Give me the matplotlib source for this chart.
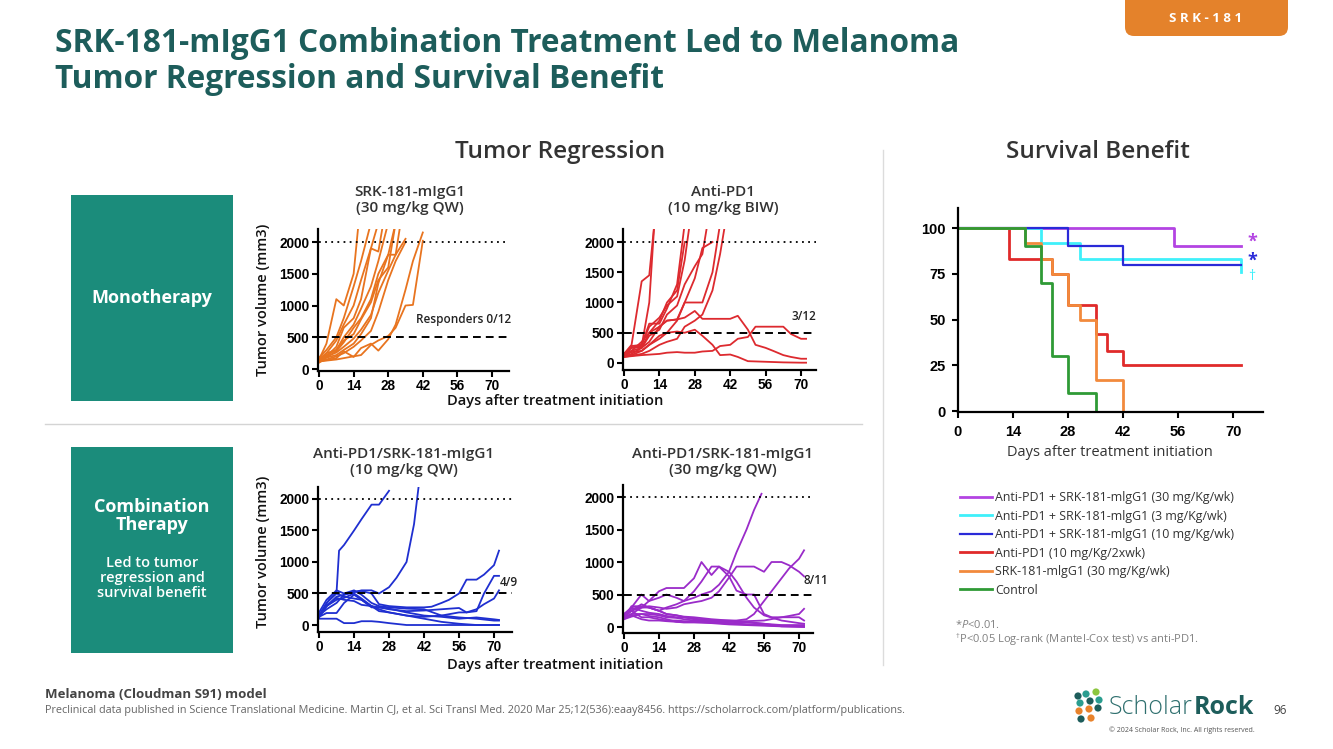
import numpy as np
import matplotlib
matplotlib.use("Agg")
import matplotlib.pyplot as plt
from matplotlib.patches import FancyBboxPatch, Rectangle
from matplotlib.font_manager import FontProperties

plt.rcParams['font.family'] = ['Open Sans', 'Noto Sans', 'DejaVu Sans']
plt.rcParams['mathtext.fontset'] = 'custom'
plt.rcParams['mathtext.rm'] = 'Open Sans'
plt.rcParams['mathtext.it'] = 'Open Sans:italic'

W, H = 1333, 749

# ---- tumor growth curves (day, volume mm3) ----
srk181_curves = [
    ([0, 3, 7, 10, 14, 16], [150, 400, 1100, 1000, 1500, 2300]),
    ([0, 3, 7, 10, 14, 17, 21], [180, 300, 500, 800, 1300, 1700, 2300]),
    ([0, 3, 7, 10, 14, 17, 21, 24], [120, 250, 450, 700, 1000, 1400, 1900, 2300]),
    ([0, 3, 7, 10, 14, 17, 21, 24, 26], [150, 200, 350, 650, 800, 1100, 1900, 1850, 2300]),
    ([0, 3, 7, 10, 14, 17, 21, 24, 28], [130, 220, 300, 500, 700, 950, 1300, 1700, 2300]),
    ([0, 3, 7, 10, 14, 17, 21, 24, 28, 31], [100, 180, 280, 420, 650, 800, 1100, 1500, 1800, 2300]),
    ([0, 3, 7, 10, 14, 17, 21, 24, 28, 31], [160, 250, 300, 450, 550, 780, 1050, 1400, 1600, 2300]),
    ([0, 3, 7, 10, 14, 17, 21, 24, 28, 31, 33], [140, 200, 260, 350, 480, 620, 850, 1200, 1550, 1800, 2300]),
    ([0, 3, 7, 10, 14, 17, 21, 24, 28, 31, 35], [120, 180, 220, 300, 400, 550, 800, 1350, 1800, 1800, 2050]),
    ([0, 3, 7, 10, 14, 17, 21, 24, 28, 31, 35], [110, 150, 200, 250, 350, 450, 600, 900, 1400, 1700, 2000]),
    ([0, 7, 14, 17, 21, 24, 28, 31, 35, 38, 42], [120, 150, 200, 220, 380, 450, 520, 650, 1000, 1010, 2020]),
    ([0, 3, 7, 10, 14, 17, 21, 24, 28, 31, 35, 38, 42], [130, 140, 170, 280, 190, 330, 400, 290, 470, 700, 1250, 1700, 2150]),
]

antipd1_curves = [
    ([0, 3, 7, 10, 12], [150, 300, 1350, 1450, 2300]),
    ([0, 3, 7, 10, 12], [120, 250, 280, 1000, 2300]),
    ([0, 3, 7, 10, 14, 17, 21, 24], [130, 280, 300, 650, 650, 900, 1300, 2300]),
    ([0, 3, 7, 10, 14, 17, 21, 24], [110, 200, 350, 500, 700, 1000, 1200, 2000]),
    ([0, 3, 7, 10, 14, 17, 21, 24, 26], [150, 250, 300, 600, 750, 950, 1100, 1700, 2300]),
    ([0, 3, 7, 10, 14, 17, 21, 24, 28, 31, 35], [100, 150, 250, 350, 600, 700, 720, 1000, 1400, 1900, 2000]),
    ([0, 3, 7, 10, 14, 17, 21, 24, 28, 31, 33], [140, 200, 250, 450, 550, 800, 950, 1300, 1600, 1800, 2300]),
    ([0, 3, 7, 10, 14, 17, 21, 24, 28, 31, 35, 38], [120, 130, 200, 300, 400, 500, 700, 1000, 1000, 1000, 1500, 2300]),
    ([0, 3, 7, 10, 14, 17, 21, 24, 28, 31, 35, 38, 40], [100, 120, 150, 200, 300, 350, 400, 600, 700, 800, 1200, 1800, 2300]),
    ([0, 3, 7, 10, 14, 17, 21, 24, 28, 31, 35, 42, 45, 49, 52, 56, 59, 63, 66, 70, 72],
     [130, 260, 250, 500, 600, 700, 720, 750, 860, 730, 730, 730, 780, 550, 300, 250, 200, 130, 100, 70, 70]),
    ([0, 3, 7, 10, 14, 17, 21, 24, 28, 31, 35, 38, 42, 45, 49, 56, 63, 70, 72],
     [120, 180, 200, 300, 450, 500, 520, 500, 550, 450, 300, 130, 140, 100, 30, 20, 10, 5, 5]),
    ([0, 7, 14, 17, 21, 24, 28, 31, 35, 38, 42, 45, 49, 52, 56, 63, 66, 70, 72],
     [100, 130, 150, 170, 180, 170, 170, 190, 200, 280, 300, 400, 430, 600, 600, 600, 480, 400, 400]),
]

combo10_curves = [
    ([0, 4, 7, 8, 10, 14, 17, 21, 24, 28], [150, 400, 520, 1180, 1270, 1500, 1680, 1910, 1910, 2130]),
    ([0, 3, 7, 10, 14, 17, 21, 24, 28, 31, 35, 38, 40], [150, 300, 450, 480, 520, 550, 550, 500, 600, 750, 1000, 1600, 2250]),
    ([0, 3, 7, 10, 14, 17, 21, 24, 28, 35, 42, 45, 49, 52, 56, 59, 63, 66, 70, 72],
     [150, 250, 350, 480, 530, 540, 500, 330, 300, 280, 280, 290, 350, 400, 500, 720, 720, 800, 950, 1180]),
    ([0, 3, 7, 10, 14, 17, 21, 24, 28, 35, 42, 49, 56, 59, 63, 66, 70, 72],
     [130, 190, 190, 350, 480, 400, 280, 280, 250, 220, 230, 250, 270, 200, 220, 500, 780, 780]),
    ([0, 3, 7, 10, 14, 17, 21, 24, 28, 35, 42, 49, 56, 59, 63, 66, 70, 72],
     [120, 300, 430, 400, 380, 320, 300, 220, 200, 150, 130, 150, 200, 200, 250, 330, 420, 550]),
    ([0, 3, 7, 10, 14, 17, 21, 24, 28, 35, 42, 49, 56, 63, 72], [100, 100, 100, 30, 30, 60, 60, 50, 30, 0, 0, 0, 0, 0, 0]),
    ([0, 3, 7, 10, 14, 17, 21, 24, 28, 35, 42, 49, 56, 63, 72], [150, 350, 500, 450, 420, 400, 300, 250, 200, 150, 100, 50, 20, 0, 0]),
    ([0, 3, 7, 10, 14, 17, 21, 24, 28, 35, 42, 49, 56, 63, 70, 72],
     [200, 400, 550, 500, 550, 480, 350, 300, 280, 260, 250, 150, 120, 100, 70, 70]),
    ([0, 3, 7, 10, 14, 17, 21, 24, 28, 35, 42, 49, 56, 63, 70, 72],
     [150, 300, 400, 430, 500, 420, 300, 280, 260, 200, 150, 130, 100, 120, 90, 80]),
]

combo30_curves = [
    ([0, 3, 7, 10, 14, 17, 21, 24, 28, 31, 35, 38, 42, 45, 49, 52, 55],
     [150, 250, 350, 300, 250, 300, 350, 400, 450, 500, 550, 650, 850, 1150, 1500, 1800, 2050]),
    ([0, 3, 7, 10, 14, 17, 21, 24, 28, 31, 35, 38, 42, 45, 49, 52, 56, 59, 63, 66, 70, 72],
     [200, 300, 500, 400, 550, 600, 600, 600, 750, 1000, 800, 930, 780, 560, 500, 500, 200, 150, 150, 150, 150, 100]),
    ([0, 3, 7, 10, 14, 17, 21, 24, 28, 31, 35, 38, 42, 45, 49, 52, 56, 63, 70, 72],
     [150, 250, 300, 400, 450, 500, 450, 400, 550, 700, 930, 930, 850, 700, 450, 300, 180, 100, 60, 50]),
    ([0, 3, 7, 10, 14, 17, 21, 24, 28, 31, 35, 38, 42, 45, 49, 52, 56, 59, 63, 66, 70, 72],
     [180, 280, 300, 320, 300, 280, 300, 350, 380, 400, 450, 550, 760, 930, 930, 930, 850, 1000, 1000, 950, 850, 780]),
    ([0, 3, 7, 10, 14, 17, 21, 24, 28, 35, 42, 45, 49, 52, 56, 59, 63, 66, 70, 72],
     [120, 200, 300, 300, 250, 200, 180, 160, 150, 120, 100, 100, 120, 200, 400, 550, 750, 900, 1050, 1180]),
    ([0, 3, 7, 10, 14, 17, 21, 24, 28, 35, 42, 49, 56, 63, 66, 70, 72],
     [150, 200, 200, 200, 180, 150, 140, 120, 100, 80, 80, 90, 100, 150, 170, 200, 280]),
    ([0, 3, 7, 10, 14, 17, 21, 24, 28, 35, 42, 49, 56, 63, 72], [130, 320, 320, 300, 250, 200, 180, 150, 120, 100, 60, 40, 30, 20, 10]),
    ([0, 3, 7, 10, 14, 17, 21, 24, 28, 35, 42, 49, 56, 63, 72], [200, 250, 150, 150, 120, 100, 100, 90, 80, 70, 50, 40, 30, 20, 20]),
    ([0, 3, 7, 10, 14, 17, 21, 24, 28, 35, 42, 49, 56, 63, 72], [120, 160, 200, 170, 150, 120, 80, 80, 90, 90, 60, 70, 50, 30, 30]),
    ([0, 3, 7, 10, 14, 17, 21, 24, 28, 35, 42, 49, 56, 63, 72], [170, 300, 250, 220, 200, 170, 150, 150, 130, 100, 100, 80, 50, 10, 0]),
    ([0, 3, 7, 10, 14, 17, 21, 24, 28, 35, 42, 49, 56, 63, 72], [140, 180, 120, 100, 100, 90, 80, 70, 70, 60, 40, 30, 20, 10, 5]),
]

# ---- survival (Kaplan-Meier) ----
km_labels = [
    "Anti-PD1 + SRK-181-mlgG1 (30 mg/Kg/wk)",
    "Anti-PD1 + SRK-181-mlgG1 (3 mg/Kg/wk)",
    "Anti-PD1 + SRK-181-mlgG1 (10 mg/Kg/wk)",
    "Anti-PD1 (10 mg/Kg/2xwk)",
    "SRK-181-mlgG1 (30 mg/Kg/wk)",
    "Control",
]
km_days = [
    [0, 55, 72],
    [0, 21, 31, 72],
    [0, 28, 42, 72],
    [0, 13, 24, 28, 35, 38, 42, 72],
    [0, 17, 21, 24, 28, 31, 35, 42],
    [0, 17, 21, 24, 28, 35],
]
km_surv = [
    [100, 90, 90],
    [100, 92, 83, 76],
    [100, 90, 80, 80],
    [100, 83, 75, 58, 42, 33, 25, 25],
    [100, 92, 83, 75, 58, 50, 17, 0],
    [100, 90, 70, 30, 10, 0],
]
km_colors = ['#b344e2', '#3ff0fa', '#2a2ad8', '#e02a2a', '#f28a3c', '#2f9a36']
km_widths = [2.0, 2.0, 1.6, 2.0, 2.0, 2.0]

x_ticks = [0, 14, 28, 42, 56, 70]
vol_ticks = [0, 500, 1000, 1500, 2000]
surv_ticks = [0, 25, 50, 75, 100]

TEAL_BOX = '#1b8c7b'
TITLE_C = '#1d5d5b'
DARK = '#333333'

fig = plt.figure(figsize=(W / 100, H / 100), dpi=100)
bg = fig.add_axes([0, 0, 1, 1], zorder=0)
bg.set_xlim(0, W)
bg.set_ylim(H, 0)
bg.axis('off')


def px_axes(x0, y0, x1, y1):
    ax = fig.add_axes([x0 / W, 1 - y1 / H, (x1 - x0) / W, (y1 - y0) / H], zorder=2)
    ax.patch.set_alpha(0)
    return ax


def style_axes(ax, yticks, size=9.8, pad=2):
    for s in ['top', 'right']:
        ax.spines[s].set_visible(False)
    for s in ['left', 'bottom']:
        ax.spines[s].set_linewidth(1.6)
    ax.set_xticks(x_ticks)
    ax.set_yticks(yticks)
    ax.tick_params(direction='out', length=4, width=1.5, pad=pad)
    fp = FontProperties(family='Liberation Sans', weight='bold', size=size)
    for lab in ax.get_xticklabels() + ax.get_yticklabels():
        lab.set_fontproperties(fp)


def tumor_panel(box, curves, color, ylim, xmax, note, note_xy):
    ax = px_axes(*box)
    for d, v in curves:
        ax.plot(d, v, color=color, lw=1.3, solid_joinstyle='round')
    ax.plot([0, xmax], [2000, 2000], color='k', lw=1.3, ls=(0, (1, 2.4)))
    ax.plot([0, xmax], [500, 500], color='k', lw=1.4, ls=(0, (4, 2.6)))
    ax.set_xlim(-0.5, xmax)
    ax.set_ylim(*ylim)
    style_axes(ax, vol_ticks)
    bg.text(note_xy[0], note_xy[1], note, fontsize=8.5, color='#222222', va='center', ha='left',
            weight='semibold')
    return ax


# header
bg.add_patch(FancyBboxPatch((1125, -30), 163, 66, boxstyle='round,pad=0,rounding_size=9',
                            fc='#e4822b', ec='none'))
bg.text(1206, 18, 'S R K - 1 8 1', color='white', fontsize=9.5, weight='bold', ha='center', va='center')
bg.text(55, 44, 'SRK-181-mIgG1 Combination Treatment Led to Melanoma', color=TITLE_C,
        fontsize=22.8, weight='bold', va='center', ha='left')
bg.text(55, 80, 'Tumor Regression and Survival Benefit', color=TITLE_C,
        fontsize=22.8, weight='bold', va='center', ha='left')

bg.text(560, 152, 'Tumor Regression', color=DARK, fontsize=17.5, weight='semibold', ha='center', va='center')
bg.text(1098, 152, 'Survival Benefit', color=DARK, fontsize=17.5, weight='semibold', ha='center', va='center')

# separators
bg.plot([45, 862], [424, 424], color='#d4d4d4', lw=1)
bg.plot([883, 883], [150, 665], color='#dcdcdc', lw=1)

# category boxes
bg.add_patch(Rectangle((71, 195), 162, 206, fc=TEAL_BOX, ec='none'))
bg.add_patch(Rectangle((71, 447), 162, 206, fc=TEAL_BOX, ec='none'))
bg.text(152, 298, 'Monotherapy', color='white', fontsize=13, weight='bold', ha='center', va='center')
bg.text(152, 516, 'Combination\nTherapy', color='white', fontsize=13, weight='bold', ha='center', va='center',
        linespacing=1.0)
bg.text(152, 578, 'Led to tumor\nregression and\nsurvival benefit', color='white', fontsize=10.5,
        weight='semibold', ha='center', va='center', linespacing=1.1)

# tumor panels
tumor_panel((317.8, 229, 509.3, 371), srk181_curves, '#e8741f', (-31, 2205), 77, 'Responders 0/12', (416, 320))
tumor_panel((622.7, 229, 816.2, 370), antipd1_curves, '#dd2a2f', (-116, 2215), 76, '3/12', (792, 317))
tumor_panel((317.8, 487, 511.5, 632), combo10_curves, '#1f2fd0', (-111, 2190), 77, '4/9', (500, 582))
tumor_panel((622.7, 485, 812.8, 633), combo30_curves, '#9a2bc9', (-92, 2185), 75.5, '8/11', (803, 580))

panel_title_kw = dict(color=DARK, fontsize=11, weight='semibold', ha='center', va='center', linespacing=1.1)
bg.text(410, 200, 'SRK-181-mIgG1\n(30 mg/kg QW)', **panel_title_kw)
bg.text(723, 200, 'Anti-PD1\n(10 mg/kg BIW)', **panel_title_kw)
bg.text(404, 462, 'Anti-PD1/SRK-181-mIgG1\n(10 mg/kg QW)', **panel_title_kw)
bg.text(723, 462, 'Anti-PD1/SRK-181-mIgG1\n(30 mg/kg QW)', **panel_title_kw)

for yc in (300, 552):
    bg.text(263, yc, 'Tumor volume (mm3)', rotation=90, color='#111111', fontsize=10.5, weight='semibold',
            ha='center', va='center')
for yc in (401, 665):
    bg.text(555, yc, 'Days after treatment initiation', color='#111111', fontsize=10.5, weight='semibold',
            ha='center', va='center')

# survival panel
km = px_axes(958, 208, 1262.6, 412)
handles = []
for t, s, c, lw, lab in zip(km_days, km_surv, km_colors, km_widths, km_labels):
    h, = km.step(t, s, where='post', color=c, lw=lw, label=lab)
    handles.append(h)
km.set_xlim(0, 77.5)
km.set_ylim(-0.5, 111)
style_axes(km, surv_ticks, size=10.5, pad=5)
bg.text(1110, 453, 'Days after treatment initiation', color=DARK, fontsize=10.5, ha='center', va='center')
bg.text(1252, 242, '*', color=km_colors[0], fontsize=13, weight='bold', ha='center', va='center')
bg.text(1252, 261, '*', color=km_colors[2], fontsize=13, weight='bold', ha='center', va='center')
bg.text(1252, 276, '†', color=km_colors[1], fontsize=10, ha='center', va='center')

leg = fig.legend(handles=handles, labels=km_labels, loc='upper left',
                 bbox_to_anchor=(960 / W, 1 - 491 / H), frameon=False, fontsize=8.9,
                 handlelength=2.6, handletextpad=0.25, labelspacing=0.45, borderaxespad=0, borderpad=0)
for txt in leg.get_texts():
    txt.set_color(DARK)

bg.text(955, 625, r'*$\mathit{P}$<0.01.', color='#808080', fontsize=8, ha='left', va='center')
bg.text(955, 640, r'$^{\dagger}$P<0.05 Log-rank (Mantel-Cox test) vs anti-PD1.', color='#808080',
        fontsize=8, ha='left', va='center')

# footer
bg.text(45, 695, 'Melanoma (Cloudman S91) model', color='#444444', fontsize=9.5, weight='bold', va='center')
bg.text(45, 711, 'Preclinical data published in Science Translational Medicine. Martin CJ, et al. Sci Transl Med. '
        '2020 Mar 25;12(536):eaay8456. https://scholarrock.com/platform/publications.',
        color='#666666', fontsize=7.8, va='center')

# logo
logo_dots = [(1078, 696, '#1d5d5b'), (1086, 694, '#2a9d8f'), (1096, 692, '#8cc63f'),
             (1080, 703, '#2a9d8f'), (1090, 701, '#1d5d5b'), (1099, 700, '#2a9d8f'),
             (1079, 711, '#e8822b'), (1089, 709, '#e8822b'), (1098, 708, '#1d5d5b'),
             (1081, 719, '#1d5d5b'), (1091, 718, '#e8822b')]
for x, y, c in logo_dots:
    bg.add_patch(plt.Circle((x, y), 3.6, fc=c, ec='none'))
scholar = bg.text(1109, 708, 'Scholar', color='#2e6f6e', fontsize=18, va='center', ha='left', weight='light')
fig.canvas.draw()
ext = scholar.get_window_extent()
bg.text(ext.x1 + 1, 708, 'Rock', color='#1d5d5b', fontsize=18, weight='bold', va='center', ha='left')
bg.text(1280, 710, '96', color='#444444', fontsize=8.5, va='center', ha='center')
bg.text(1182, 730, '© 2024 Scholar Rock, Inc. All rights reserved.', color='#555555', fontsize=5,
        va='center', ha='center')

fig.savefig('out.png', dpi=100)
